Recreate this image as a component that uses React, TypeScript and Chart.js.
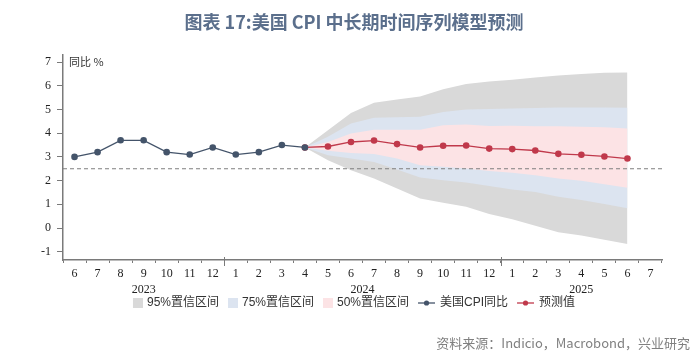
import React, { useEffect, useRef } from "react";
import { Chart, registerables } from "chart.js";

Chart.register(...registerables);

// ---- data ----
const YEARS = ["2023", "2023", "2023", "2023", "2023", "2023", "2023",
  "2024", "2024", "2024", "2024", "2024", "2024", "2024", "2024", "2024", "2024", "2024", "2024",
  "2025", "2025", "2025", "2025", "2025", "2025", "2025"];
const MONTHS = ["6", "7", "8", "9", "10", "11", "12",
  "1", "2", "3", "4", "5", "6", "7", "8", "9", "10", "11", "12",
  "1", "2", "3", "4", "5", "6", "7"];

const N = null;
const ACTUAL = [3.0, 3.2, 3.7, 3.7, 3.2, 3.1, 3.4, 3.1, 3.2, 3.5, 3.4, N, N, N, N, N, N, N, N, N, N, N, N, N, N, N];
const FORECAST = [N, N, N, N, N, N, N, N, N, N, 3.4, 3.44, 3.63, 3.69, 3.54, 3.4, 3.47, 3.48, 3.35, 3.33, 3.27, 3.13, 3.09, 3.02, 2.93, N];
const UP95 = [N, N, N, N, N, N, N, N, N, N, 3.4, 4.12, 4.85, 5.29, 5.42, 5.55, 5.85, 6.08, 6.18, 6.26, 6.35, 6.44, 6.5, 6.55, 6.56, N];
const LO95 = [N, N, N, N, N, N, N, N, N, N, 3.4, 2.86, 2.44, 2.09, 1.67, 1.25, 1.07, 0.9, 0.59, 0.37, 0.1, -0.18, -0.32, -0.5, -0.67, N];
const UP75 = [N, N, N, N, N, N, N, N, N, N, 3.4, 3.85, 4.41, 4.65, 4.67, 4.69, 4.9, 5.0, 5.02, 5.04, 5.06, 5.08, 5.08, 5.08, 5.07, N];
const LO75 = [N, N, N, N, N, N, N, N, N, N, 3.4, 3.07, 2.93, 2.79, 2.47, 2.13, 2.02, 1.92, 1.77, 1.63, 1.52, 1.32, 1.18, 1.01, 0.83, N];
const UP50 = [N, N, N, N, N, N, N, N, N, N, 3.4, 3.63, 3.99, 4.15, 4.15, 4.15, 4.34, 4.37, 4.3, 4.31, 4.29, 4.29, 4.27, 4.25, 4.2, N];
const LO50 = [N, N, N, N, N, N, N, N, N, N, 3.4, 3.26, 3.17, 3.12, 2.93, 2.65, 2.58, 2.51, 2.41, 2.33, 2.23, 2.09, 1.99, 1.85, 1.7, N];
const TARGET = 2.5;
const Y_TICKS = [-1, 0, 1, 2, 3, 4, 5, 6, 7];

const TITLE = "图表 17:美国 CPI 中长期时间序列模型预测";
const SOURCE = "资料来源：Indicio，Macrobond，兴业研究";
const UNIT = "同比 %";
const LEGEND = [
  { label: "95%置信区间", kind: "box", color: "#d9d9d9" },
  { label: "75%置信区间", kind: "box", color: "#dce4f0" },
  { label: "50%置信区间", kind: "box", color: "#fce3e5" },
  { label: "美国CPI同比", kind: "line", color: "#44546a" },
  { label: "预测值", kind: "line", color: "#c0394b" },
];

const C95 = "#d9d9d9";
const C75 = "#dce4f0";
const C50 = "#fce3e5";
const NAVY = "#44546a";
const RED = "#c0394b";
const AXIS = "#7a7a7a";
const SERIF = '"Liberation Serif", "Times New Roman", serif';
const SANS = '"Liberation Sans", "Noto Sans CJK SC", sans-serif';
const CJK = '"Noto Sans CJK SC", sans-serif';

const decorPlugin = {
  id: "decor",
  afterDatasetsDraw(chart: any) {
    const { ctx, chartArea } = chart;
    const y = chart.scales.y.getPixelForValue(TARGET);
    ctx.save();
    ctx.strokeStyle = "#7f7f7f";
    ctx.lineWidth = 1.2;
    ctx.setLineDash([4, 3]);
    ctx.beginPath();
    ctx.moveTo(chartArea.left, y);
    ctx.lineTo(chartArea.right, y);
    ctx.stroke();
    ctx.restore();
  },
  afterDraw(chart: any) {
    const { ctx, chartArea } = chart;
    const xs = chart.scales.x;
    ctx.save();
    // title
    ctx.fillStyle = "#5b6f8c";
    ctx.font = 'bold 18px ' + CJK;
    ctx.textAlign = "center";
    ctx.textBaseline = "middle";
    ctx.fillText(TITLE, 354, 22);

    // unit label
    ctx.fillStyle = "#333333";
    ctx.font = '11px ' + CJK;
    ctx.textAlign = "left";
    ctx.fillText(UNIT, chartArea.left + 6, 62);

    // year boundary ticks & year labels
    const step = xs.getPixelForValue(1) - xs.getPixelForValue(0);
    ctx.strokeStyle = AXIS;
    ctx.lineWidth = 1;
    const groups: { year: string; from: number; to: number }[] = [];
    YEARS.forEach((yr, i) => {
      const g = groups[groups.length - 1];
      if (g && g.year === yr) g.to = i;
      else groups.push({ year: yr, from: i, to: i });
    });
    groups.forEach((g, gi) => {
      if (gi > 0) {
        const bx = Math.round(xs.getPixelForValue(g.from) - step / 2) + 0.5;
        ctx.beginPath();
        ctx.moveTo(bx, chartArea.bottom - 3);
        ctx.lineTo(bx, chartArea.bottom + 6);
        ctx.stroke();
      }
      const cx = (xs.getPixelForValue(g.from) + xs.getPixelForValue(g.to)) / 2;
      ctx.fillStyle = "#222222";
      ctx.font = '12px ' + SERIF;
      ctx.textAlign = "center";
      ctx.fillText(g.year, cx, 290);
    });

    // legend
    ctx.font = '12px ' + SANS;
    const widths = LEGEND.map((it) => (it.kind === "box" ? 14 : 22) + ctx.measureText(it.label).width);
    const gap = 9;
    const total = widths.reduce((a, b) => a + b, 0) + gap * (LEGEND.length - 1);
    let x = 354 - total / 2;
    const ly = 303;
    LEGEND.forEach((it, i) => {
      if (it.kind === "box") {
        ctx.fillStyle = it.color;
        ctx.fillRect(x, ly - 5, 10, 10);
        ctx.fillStyle = "#333333";
        ctx.textAlign = "left";
        ctx.fillText(it.label, x + 14, ly);
      } else {
        ctx.strokeStyle = it.color;
        ctx.lineWidth = 1.3;
        ctx.beginPath();
        ctx.moveTo(x, ly);
        ctx.lineTo(x + 17, ly);
        ctx.stroke();
        ctx.fillStyle = it.color;
        ctx.beginPath();
        ctx.arc(x + 8.5, ly, 2.6, 0, Math.PI * 2);
        ctx.fill();
        ctx.fillStyle = "#333333";
        ctx.textAlign = "left";
        ctx.fillText(it.label, x + 22, ly);
      }
      x += widths[i] + gap;
    });

    // source
    ctx.fillStyle = "#808080";
    ctx.font = '13px ' + CJK;
    ctx.textAlign = "right";
    ctx.fillText(SOURCE, 690, 343);
    ctx.restore();
  },
};

function band(data: (number | null)[], fill: any, color: string, order: number) {
  return {
    data,
    fill,
    backgroundColor: color,
    borderColor: "rgba(0,0,0,0)",
    borderWidth: 0,
    pointRadius: 0,
    pointHoverRadius: 0,
    order,
    spanGaps: false,
  };
}

export default function App() {
  const ref = useRef<HTMLCanvasElement | null>(null);
  useEffect(() => {
    let chart: Chart | null = null;
    let cancelled = false;
    const make = () => {
      if (cancelled || !ref.current) return;
      chart = new Chart(ref.current, {
        type: "line",
        data: {
          labels: MONTHS,
          datasets: [
            band(UP95, false, C95, 3),
            band(LO95, "-1", C95, 3),
            band(UP75, false, C75, 2),
            band(LO75, "-1", C75, 2),
            band(UP50, false, C50, 1),
            band(LO50, "-1", C50, 1),
            {
              data: ACTUAL,
              borderColor: NAVY,
              backgroundColor: NAVY,
              borderWidth: 1.3,
              pointRadius: 3.3,
              pointBorderWidth: 0,
              fill: false,
              order: 0,
            } as any,
            {
              data: FORECAST,
              borderColor: RED,
              backgroundColor: RED,
              borderWidth: 1.3,
              pointRadius: 3.3,
              pointBorderWidth: 0,
              fill: false,
              order: 0,
            } as any,
          ],
        },
        options: {
          animation: false,
          responsive: false,
          devicePixelRatio: 1,
          layout: { padding: { left: 0, right: 38, top: 55, bottom: 0 } },
          plugins: { legend: { display: false }, tooltip: { enabled: false }, title: { display: false } },
          scales: {
            x: {
              type: "category",
              offset: true,
              grid: { display: true, drawOnChartArea: false, drawTicks: true, tickLength: 3, color: AXIS, offset: true },
              border: { display: true, color: AXIS, width: 1.5 },
              ticks: { color: "#222222", font: { family: SERIF, size: 12 }, padding: 4, maxRotation: 0, autoSkip: false },
              afterFit: (s: any) => { s.height = 103; },
            },
            y: {
              min: -1.35,
              max: 7.3,
              grid: { display: true, drawOnChartArea: false, drawTicks: true, tickLength: 6, color: AXIS },
              border: { display: true, color: AXIS, width: 1.5 },
              ticks: { color: "#222222", font: { family: SERIF, size: 12 }, padding: 6 },
              afterBuildTicks: (s: any) => { s.ticks = Y_TICKS.map((v) => ({ value: v })); },
              afterFit: (s: any) => { s.width = 63; },
            },
          },
        },
        plugins: [decorPlugin],
      });
    };
    const fonts = (document as any).fonts;
    if (fonts && fonts.load) {
      Promise.all([
        fonts.load('bold 18px "Noto Sans CJK SC"'),
        fonts.load('12px "Liberation Serif"'),
        fonts.load('12px "Liberation Sans"'),
      ]).then(make, make);
    } else make();
    return () => {
      cancelled = true;
      if (chart) chart.destroy();
    };
  }, []);
  return (
    <div style={{ position: "fixed", left: 0, top: 0, width: 700, height: 363, background: "#fff" }}>
      <canvas ref={ref} width={700} height={363} style={{ width: 700, height: 363 }} />
    </div>
  );
}
